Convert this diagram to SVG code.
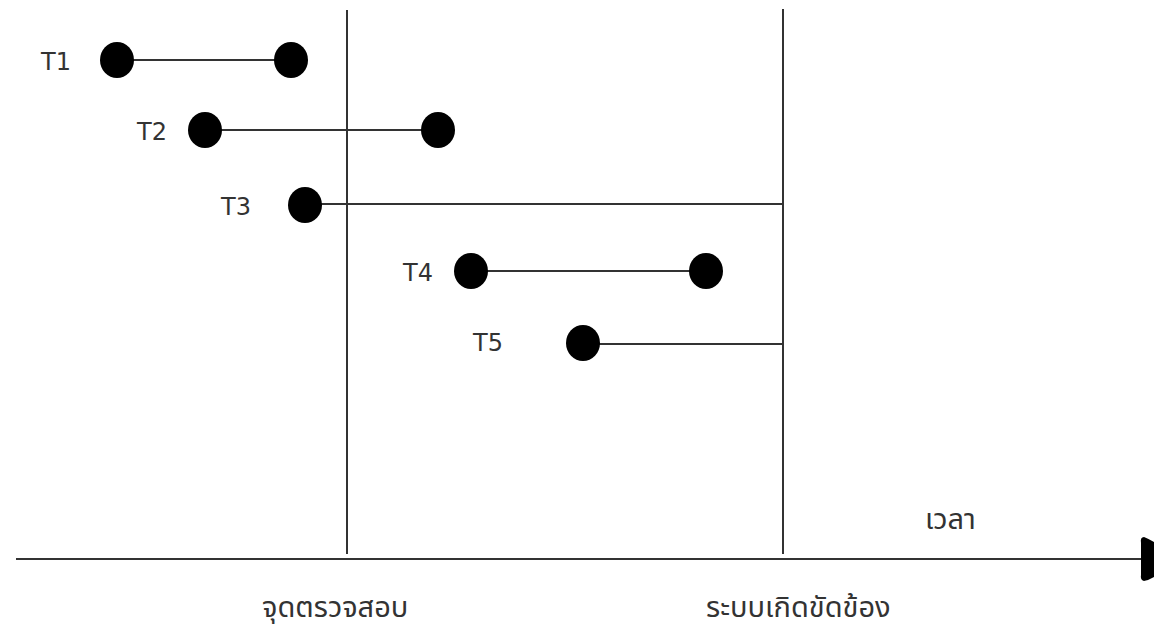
<svg xmlns="http://www.w3.org/2000/svg" width="1154" height="628" viewBox="0 0 1154 628">
  <style>
    .line { stroke: #333; stroke-width: 2; fill: none; }
    .dot { fill: #000; }
    .lbl { font-family: "DejaVu Sans", "Noto Sans", sans-serif; font-size: 24px; fill: #333; }
    .thai { font-family: "Noto Sans Thai", "Noto Sans", "DejaVu Sans", sans-serif; font-size: 29px; fill: #333; }
  </style>
  <rect width="1154" height="628" fill="#fff"/>

  <!-- time axis, markers and task spans -->
  <g id="connectors">
    <line class="line" x1="16" y1="559" x2="1146" y2="559" stroke="#444" stroke-width="3"/>
    <path d="M1144 537 Q1149 539 1154 542 L1154 577 Q1149 580 1144 581 Q1140 580 1141 575 L1141 543 Q1140 537 1144 537 Z" fill="#000"/>
    <line class="line" x1="347" y1="10" x2="347" y2="554"/>
    <line class="line" x1="783" y1="9" x2="783" y2="554"/>
    <line class="line" x1="117" y1="60" x2="291" y2="60"/>
    <line class="line" x1="205" y1="130" x2="438" y2="130"/>
    <line class="line" x1="305" y1="204" x2="783" y2="204"/>
    <line class="line" x1="471" y1="271" x2="706" y2="271"/>
    <line class="line" x1="583" y1="344" x2="783" y2="344"/>
  </g>

  <g id="T1">
    <text class="lbl" x="41" y="70">T1</text>
    <ellipse class="dot" cx="117" cy="60" rx="17" ry="18"/>
    <ellipse class="dot" cx="291" cy="60" rx="17" ry="18"/>
  </g>
  <g id="T2">
    <text class="lbl" x="137" y="140">T2</text>
    <ellipse class="dot" cx="205" cy="130" rx="17" ry="18"/>
    <ellipse class="dot" cx="438" cy="130" rx="17" ry="18"/>
  </g>
  <g id="T3">
    <text class="lbl" x="221" y="215">T3</text>
    <ellipse class="dot" cx="305" cy="205" rx="17" ry="18"/>
  </g>
  <g id="T4">
    <text class="lbl" x="403" y="281">T4</text>
    <ellipse class="dot" cx="471" cy="271" rx="17" ry="18"/>
    <ellipse class="dot" cx="706" cy="271" rx="17" ry="18"/>
  </g>
  <g id="T5">
    <text class="lbl" x="473" y="351">T5</text>
    <ellipse class="dot" cx="583" cy="343" rx="17" ry="18"/>
  </g>

  <g id="checkpoint-label">
    <text class="thai" x="262" y="617">จุดตรวจสอบ</text>
  </g>
  <g id="failure-label">
    <text class="thai" x="706" y="617">ระบบเกิดขัดข้อง</text>
  </g>
  <g id="time-label">
    <text class="thai" x="925" y="529" font-size="31">เวลา</text>
  </g>
</svg>
